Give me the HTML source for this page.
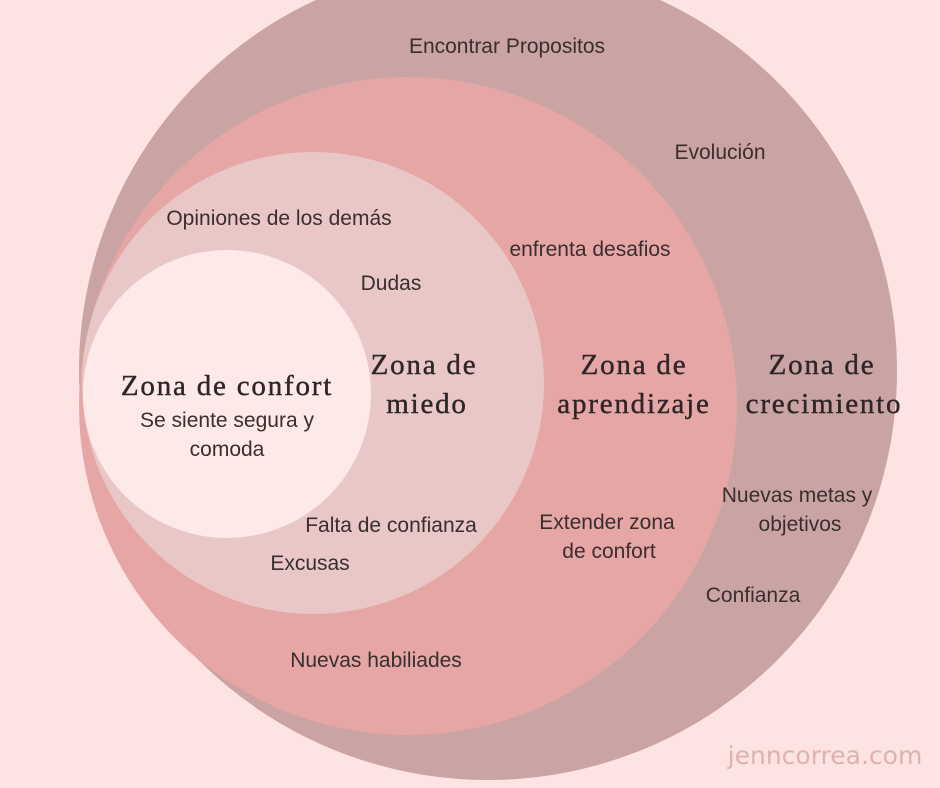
<!DOCTYPE html>
<html><head><meta charset="utf-8"><style>
html,body{margin:0;padding:0;background:#fde3e1;}
svg{display:block}
.t{font-family:"Liberation Sans",sans-serif;font-size:21px;fill:#3a2e2e;text-anchor:middle}
.h{font-family:"Liberation Serif",serif;font-size:29px;fill:#2e2626;text-anchor:middle;letter-spacing:1.8px;stroke:#2e2626;stroke-width:0.4px}
</style></head><body>
<svg width="940" height="788" viewBox="0 0 940 788" xmlns="http://www.w3.org/2000/svg">
<rect width="940" height="788" fill="#fde3e1"/>
<circle cx="488" cy="371" r="409" fill="#c9a4a3"/>
<circle cx="408" cy="406" r="329" fill="#e5a6a5"/>
<circle cx="313" cy="383" r="231" fill="#e8c7c6"/>
<circle cx="227" cy="394" r="144" fill="#fde9e8"/>
<text class="t" x="507" y="53">Encontrar Propositos</text>
<text class="t" x="720" y="159">Evolución</text>
<text class="t" x="279" y="225">Opiniones de los demás</text>
<text class="t" x="590" y="256">enfrenta desafios</text>
<text class="t" x="391" y="290">Dudas</text>
<text class="h" x="424" y="374">Zona de</text>
<text class="h" x="427" y="413">miedo</text>
<text class="h" x="634" y="374">Zona de</text>
<text class="h" x="634" y="413">aprendizaje</text>
<text class="h" x="822" y="374">Zona de</text>
<text class="h" x="824" y="413">crecimiento</text>
<text class="h" x="227" y="395">Zona de confort</text>
<text class="t" x="227" y="427">Se siente segura y</text>
<text class="t" x="227" y="456">comoda</text>
<text class="t" x="797" y="502">Nuevas metas y</text>
<text class="t" x="800" y="531">objetivos</text>
<text class="t" x="607" y="529">Extender zona</text>
<text class="t" x="609" y="558">de confort</text>
<text class="t" x="391" y="532">Falta de confianza</text>
<text class="t" x="310" y="570">Excusas</text>
<text class="t" x="753" y="602">Confianza</text>
<text class="t" x="376" y="667">Nuevas habiliades</text>
<text x="825" y="764" style="font-family:'DejaVu Sans','Liberation Sans',sans-serif;font-size:25px;fill:#dcb3b1;text-anchor:middle">jenncorrea.com</text>
</svg>
</body></html>
